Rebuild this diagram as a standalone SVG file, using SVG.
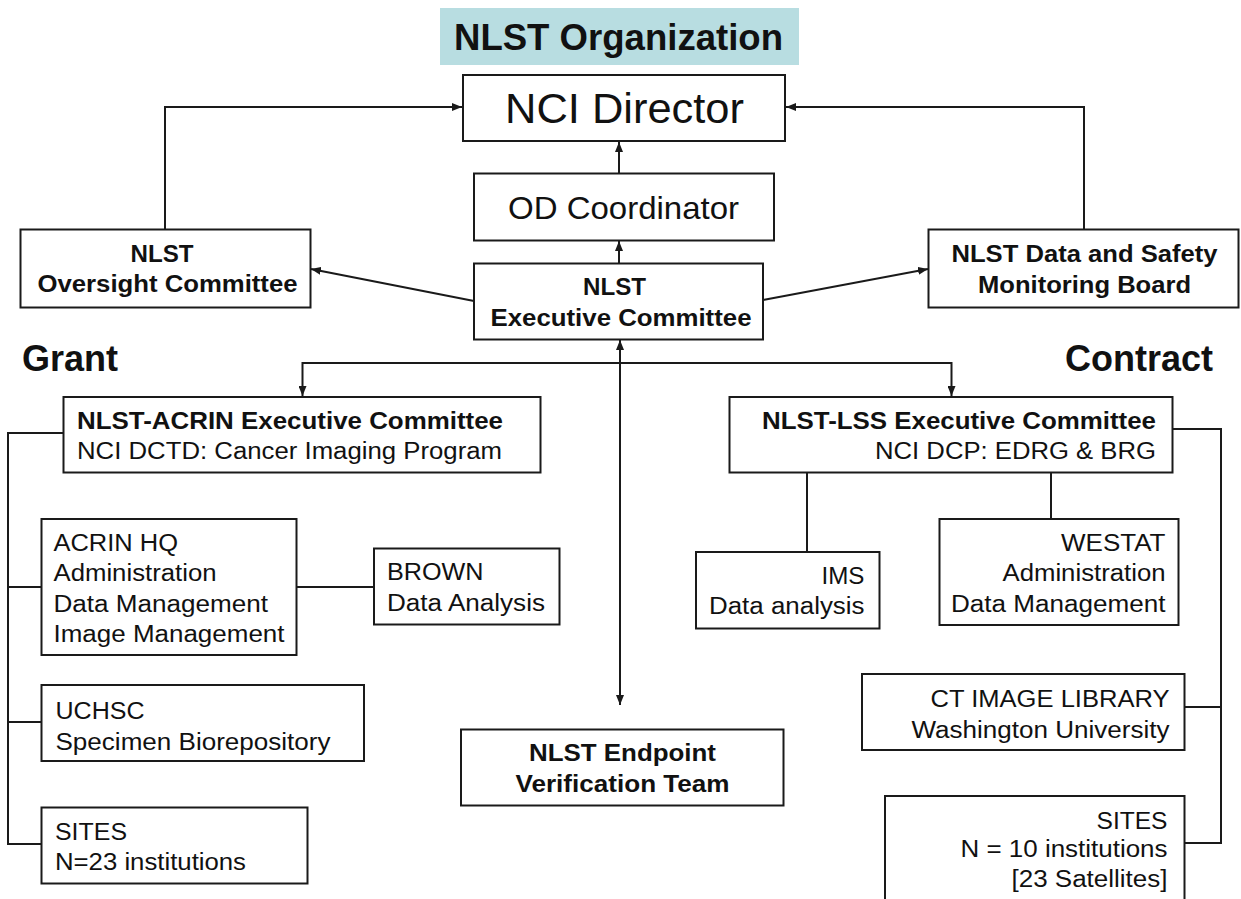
<svg xmlns="http://www.w3.org/2000/svg" width="1241" height="899" viewBox="0 0 1241 899">
<defs>
<marker id="ah" viewBox="0 0 10 8" refX="10" refY="4" markerWidth="10" markerHeight="8" markerUnits="userSpaceOnUse" orient="auto-start-reverse">
<path d="M0,0 L10,4 L0,8 z" fill="#1a1a1a"/>
</marker>
<style>
.box{fill:#fff;stroke:#1a1a1a;stroke-width:2}
.ln{fill:none;stroke:#1a1a1a;stroke-width:2}
.t{font-family:"Liberation Sans",Arial,sans-serif;font-size:23px;fill:#111}
.b{font-family:"Liberation Sans",Arial,sans-serif;font-size:23px;font-weight:bold;fill:#111}
.h{font-family:"Liberation Sans",Arial,sans-serif;font-size:36px;font-weight:bold;fill:#111}
.m{text-anchor:middle}
.e{text-anchor:end}
</style>
</defs>
<rect width="1241" height="899" fill="#fff"/>

<g id="title">
<rect x="440" y="8" width="359" height="57" fill="#b8dde1"/>
<text class="h m" x="618.5" y="50" style="font-size:37px" textLength="329" lengthAdjust="spacingAndGlyphs">NLST Organization</text>
</g>

<g id="connectors">
<path class="ln" d="M165,229 V107 H462" marker-end="url(#ah)"/>
<path class="ln" d="M1084,229 V107 H786" marker-end="url(#ah)"/>
<path class="ln" d="M619,173 V142" marker-end="url(#ah)"/>
<path class="ln" d="M619,263 V241" marker-end="url(#ah)"/>
<path class="ln" d="M474,301 L311,269" marker-end="url(#ah)"/>
<path class="ln" d="M763,300 L928,269" marker-end="url(#ah)"/>
<path class="ln" d="M620,340 V705" marker-start="url(#ah)" marker-end="url(#ah)"/>
<path class="ln" d="M620,363 H302.5 V396" marker-end="url(#ah)"/>
<path class="ln" d="M620,363 H951.5 V396" marker-end="url(#ah)"/>
<path class="ln" d="M63,433 H8 V844 H41.5"/>
<path class="ln" d="M8,587 H41.5"/>
<path class="ln" d="M8,722 H41.5"/>
<path class="ln" d="M297,587 H374"/>
<path class="ln" d="M807,472 V552"/>
<path class="ln" d="M1051,472 V519"/>
<path class="ln" d="M1173,429 H1221 V843 H1185"/>
<path class="ln" d="M1184,707 H1221"/>
</g>

<g id="nci-director">
<rect class="box" x="463" y="75" width="322" height="66"/>
<text class="t" x="505" y="123" style="font-size:43px" textLength="239" lengthAdjust="spacingAndGlyphs">NCI Director</text>
</g>

<g id="od-coordinator">
<rect class="box" x="474" y="173.5" width="300" height="67"/>
<text class="t" x="508" y="219" style="font-size:32px" textLength="231" lengthAdjust="spacingAndGlyphs">OD Coordinator</text>
</g>

<g id="oversight">
<rect class="box" x="20.5" y="229.5" width="290" height="78"/>
<text class="b m" x="162" y="262" textLength="63" lengthAdjust="spacingAndGlyphs">NLST</text>
<text class="b m" x="167.5" y="292" textLength="260" lengthAdjust="spacingAndGlyphs">Oversight Committee</text>
</g>

<g id="dsmb">
<rect class="box" x="928.5" y="229.5" width="310" height="78"/>
<text class="b m" x="1084.5" y="262" textLength="266" lengthAdjust="spacingAndGlyphs">NLST Data and Safety</text>
<text class="b m" x="1084.5" y="293" textLength="213" lengthAdjust="spacingAndGlyphs">Monitoring Board</text>
</g>

<g id="executive">
<rect class="box" x="474" y="263.5" width="289" height="76"/>
<text class="b m" x="614.5" y="295" textLength="63" lengthAdjust="spacingAndGlyphs">NLST</text>
<text class="b m" x="621" y="326" textLength="261" lengthAdjust="spacingAndGlyphs">Executive Committee</text>
</g>

<g id="grant-label">
<text class="h" x="22" y="371">Grant</text>
</g>

<g id="contract-label">
<text class="h" x="1065" y="371">Contract</text>
</g>

<g id="acrin-exec">
<rect class="box" x="63.5" y="397" width="477" height="75.5"/>
<text class="b" x="77" y="428.5" textLength="426" lengthAdjust="spacingAndGlyphs">NLST-ACRIN Executive Committee</text>
<text class="t" x="77" y="458.5" textLength="425" lengthAdjust="spacingAndGlyphs">NCI DCTD: Cancer Imaging Program</text>
</g>

<g id="lss-exec">
<rect class="box" x="729.5" y="397" width="443" height="75.5"/>
<text class="b e" x="1156" y="428.5" textLength="394" lengthAdjust="spacingAndGlyphs">NLST-LSS Executive Committee</text>
<text class="t e" x="1156" y="458.5" textLength="281" lengthAdjust="spacingAndGlyphs">NCI DCP: EDRG &amp; BRG</text>
</g>

<g id="acrin-hq">
<rect class="box" x="41.5" y="519" width="255" height="136"/>
<text class="t" x="53.5" y="551" textLength="124.5" lengthAdjust="spacingAndGlyphs">ACRIN HQ</text>
<text class="t" x="53.5" y="581" textLength="163" lengthAdjust="spacingAndGlyphs">Administration</text>
<text class="t" x="53.5" y="611.5" textLength="214.5" lengthAdjust="spacingAndGlyphs">Data Management</text>
<text class="t" x="53.5" y="641.5" textLength="231" lengthAdjust="spacingAndGlyphs">Image Management</text>
</g>

<g id="brown">
<rect class="box" x="374" y="548.5" width="185.5" height="76"/>
<text class="t" x="387" y="580" textLength="96.5" lengthAdjust="spacingAndGlyphs">BROWN</text>
<text class="t" x="387" y="611" textLength="158" lengthAdjust="spacingAndGlyphs">Data Analysis</text>
</g>

<g id="ims">
<rect class="box" x="696" y="552" width="183.5" height="76.5"/>
<text class="t e" x="864.5" y="583.5" textLength="43" lengthAdjust="spacingAndGlyphs">IMS</text>
<text class="t e" x="864.5" y="613.5" textLength="155.5" lengthAdjust="spacingAndGlyphs">Data analysis</text>
</g>

<g id="westat">
<rect class="box" x="939.5" y="519" width="239" height="106"/>
<text class="t e" x="1165.5" y="551" textLength="104.5" lengthAdjust="spacingAndGlyphs">WESTAT</text>
<text class="t e" x="1165.5" y="581" textLength="163" lengthAdjust="spacingAndGlyphs">Administration</text>
<text class="t e" x="1165.5" y="611.5" textLength="214.5" lengthAdjust="spacingAndGlyphs">Data Management</text>
</g>

<g id="uchsc">
<rect class="box" x="41.5" y="685" width="322.5" height="76"/>
<text class="t" x="55.5" y="718.5" textLength="89" lengthAdjust="spacingAndGlyphs">UCHSC</text>
<text class="t" x="55.5" y="749.5" textLength="275" lengthAdjust="spacingAndGlyphs">Specimen Biorepository</text>
</g>

<g id="ct-library">
<rect class="box" x="862" y="674" width="322.5" height="76"/>
<text class="t e" x="1169.5" y="707" textLength="239" lengthAdjust="spacingAndGlyphs">CT IMAGE LIBRARY</text>
<text class="t e" x="1169.5" y="737.5" textLength="258" lengthAdjust="spacingAndGlyphs">Washington University</text>
</g>

<g id="endpoint">
<rect class="box" x="461" y="729.5" width="322.5" height="76"/>
<text class="b m" x="622.5" y="761" textLength="187" lengthAdjust="spacingAndGlyphs">NLST Endpoint</text>
<text class="b m" x="622.5" y="792" textLength="214" lengthAdjust="spacingAndGlyphs">Verification Team</text>
</g>

<g id="sites-grant">
<rect class="box" x="41.5" y="807.5" width="266" height="76"/>
<text class="t" x="55" y="839.5" textLength="72" lengthAdjust="spacingAndGlyphs">SITES</text>
<text class="t" x="55" y="870" textLength="191" lengthAdjust="spacingAndGlyphs">N=23 institutions</text>
</g>

<g id="sites-contract">
<rect class="box" x="885" y="796" width="299.5" height="115"/>
<text class="t e" x="1167.5" y="828.5" textLength="71" lengthAdjust="spacingAndGlyphs">SITES</text>
<text class="t e" x="1167.5" y="857" textLength="207" lengthAdjust="spacingAndGlyphs">N = 10 institutions</text>
<text class="t e" x="1167.5" y="887" textLength="156" lengthAdjust="spacingAndGlyphs">[23 Satellites]</text>
</g>
</svg>
